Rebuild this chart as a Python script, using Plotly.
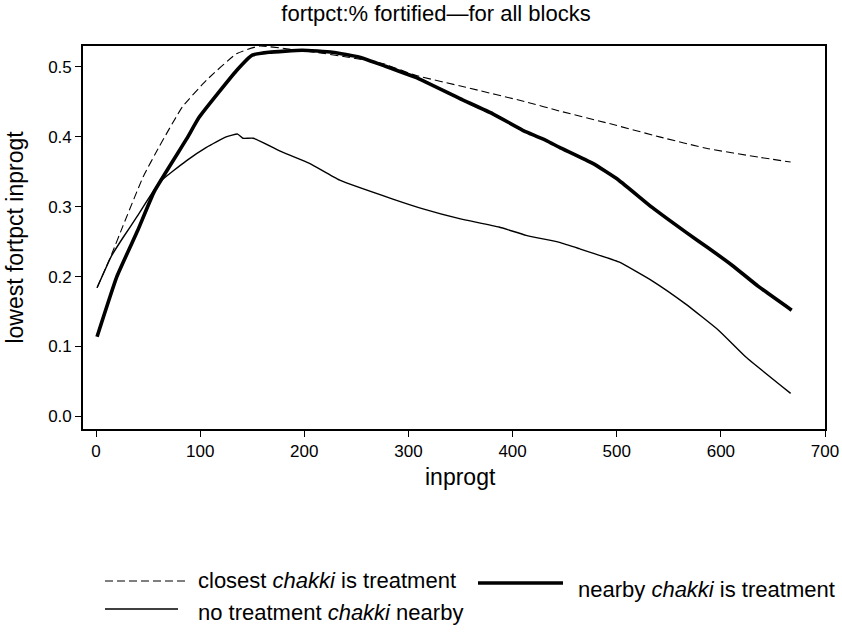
import plotly.graph_objects as go

# ---- data ----
closest_x = [1, 15, 26, 45, 61, 83, 106, 135, 157, 183, 211, 242, 275, 307, 355, 413, 445, 493, 541, 588, 636, 667]
closest_y = [0.184, 0.232, 0.273, 0.342, 0.387, 0.443, 0.481, 0.519, 0.530, 0.526, 0.521, 0.514, 0.505, 0.488, 0.471, 0.450, 0.437, 0.419, 0.400, 0.383, 0.371, 0.364]

nearby_x = [1, 20, 40, 56, 87, 99, 135, 150, 166, 198, 227, 253, 278, 307, 349, 381, 413, 432, 445, 477, 502, 534, 566, 588, 611, 636, 668]
nearby_y = [0.114, 0.200, 0.266, 0.322, 0.397, 0.428, 0.495, 0.517, 0.521, 0.524, 0.521, 0.514, 0.501, 0.485, 0.455, 0.433, 0.407, 0.395, 0.385, 0.362, 0.338, 0.299, 0.264, 0.241, 0.216, 0.186, 0.152]

none_x = [1, 15, 26, 39, 61, 87, 106, 125, 136, 141, 151, 179, 205, 234, 285, 314, 349, 387, 413, 445, 464, 502, 534, 566, 598, 624, 667]
none_y = [0.184, 0.230, 0.256, 0.285, 0.335, 0.366, 0.385, 0.400, 0.404, 0.398, 0.398, 0.378, 0.362, 0.338, 0.311, 0.297, 0.283, 0.271, 0.259, 0.249, 0.240, 0.221, 0.194, 0.161, 0.123, 0.085, 0.033]

x_ticks = [0, 100, 200, 300, 400, 500, 600, 700]
y_ticks = [0.0, 0.1, 0.2, 0.3, 0.4, 0.5]

title_text = "fortpct:% fortified\u2014for all blocks"
x_title = "inprogt"
y_title = "lowest fortpct inprogt"
name_closest = "closest <i>chakki</i> is treatment"
name_nearby = "nearby <i>chakki</i> is treatment"
name_none = "no treatment <i>chakki</i> nearby"

SANS = "Liberation Sans, Arial, Helvetica, sans-serif"

fig = go.Figure()
fig.add_trace(go.Scatter(x=closest_x, y=closest_y, mode="lines", name=name_closest,
                         line=dict(color="black", width=1.1, dash="8px,4px", shape="spline", smoothing=0.4)))
fig.add_trace(go.Scatter(x=none_x, y=none_y, mode="lines", name=name_none,
                         line=dict(color="black", width=1.4, shape="spline", smoothing=0.4)))
fig.add_trace(go.Scatter(x=nearby_x, y=nearby_y, mode="lines", name=name_nearby,
                         line=dict(color="black", width=3.6, shape="spline", smoothing=0.4)))

L, R, T, B = 83, 17, 46, 203
W, H = 842, 632
pw, ph = W - L - R, H - T - B

def px(xp):
    return (xp - L) / pw

def py(yp):
    return (H - B - yp) / ph

# manual legend (lines drawn in paper coords)
legend_items = [
    (105, 185, 581, dict(color="black", width=1.1, dash="8px,4px"), 196, 580, name_closest),
    (105, 178, 609, dict(color="black", width=1.4), 196, 612, name_none),
    (478, 563, 583, dict(color="black", width=3.6), 576, 589, name_nearby),
]
shapes = []
annotations = []
for x0, x1, yl, ls, tx, ty, txt in legend_items:
    shapes.append(dict(type="line", xref="paper", yref="paper", x0=px(x0), x1=px(x1),
                       y0=py(yl), y1=py(yl), line=ls))
    annotations.append(dict(xref="paper", yref="paper", x=px(tx), y=py(ty), text=txt,
                            showarrow=False, xanchor="left", yanchor="middle",
                            font=dict(family=SANS, size=22, color="black")))

# x-axis title as annotation for exact placement
annotations.append(dict(xref="paper", yref="paper", x=px(460), y=py(477), text=x_title,
                        showarrow=False, xanchor="center", yanchor="middle",
                        font=dict(family=SANS, size=23, color="black")))

fig.update_layout(
    width=W, height=H,
    margin=dict(l=L, r=R, t=T, b=B, autoexpand=False),
    paper_bgcolor="white", plot_bgcolor="white",
    showlegend=False,
    title=dict(text=title_text, x=436 / W, xanchor="center",
               y=1 - 13 / H, yanchor="middle",
               font=dict(family=SANS, size=22, color="black")),
    xaxis=dict(range=[-12.5, 700], tickvals=x_ticks, ticks="outside", ticklen=6, tickwidth=1.2,
               tickcolor="black", showline=True, linecolor="black", linewidth=1.8, mirror=True,
               showgrid=False, zeroline=False, automargin=False,
               tickfont=dict(family=SANS, size=17, color="black")),
    yaxis=dict(range=[-0.018, 0.53], tickvals=y_ticks, tickformat=".1f", ticks="outside", ticklen=6,
               tickwidth=1.2, tickcolor="black", showline=True, linecolor="black", linewidth=1.6,
               mirror=True, showgrid=False, zeroline=False, automargin=False,
               tickfont=dict(family=SANS, size=17, color="black"),
               title=dict(text=y_title, standoff=18, font=dict(family=SANS, size=23, color="black"))),
    shapes=shapes,
    annotations=annotations,
)

fig.write_html("out.html", config={"displayModeBar": False},
               post_script="document.body.style.margin='0';document.body.style.padding='0';")
